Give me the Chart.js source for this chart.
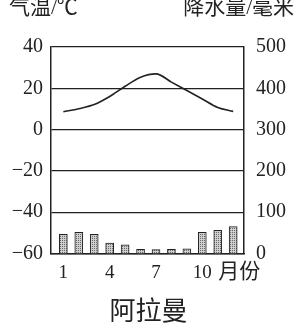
<!DOCTYPE html>
<html>
<head>
<meta charset="utf-8">
<script src="https://cdn.jsdelivr.net/npm/chart.js@4"></script>
<style>
  html, body { margin: 0; padding: 0; background: #fff; }
  #wrap { width: 297px; height: 327px; }
</style>
</head>
<body>
<div id="wrap"><canvas id="climateChart" width="297" height="327"></canvas></div>
<script>
// 阿拉曼 climate data
const months = [1, 2, 3, 4, 5, 6, 7, 8, 9, 10, 11, 12];
const tempC = [8.6, 10.1, 12.1, 16.0, 21.0, 25.4, 27.0, 23.0, 18.9, 14.8, 10.7, 8.8];
const precipMm = [46, 51, 46, 25, 21, 10, 9, 10, 11, 51, 56, 65];
const monthTicks = [1, 4, 7, 10];

const serif = '"Liberation Serif", "Noto Sans CJK SC", serif';
const ink = '#222';

// stippled grey fill for the bars
function stipple() {
    const c = document.createElement('canvas');
    c.width = 2; c.height = 2;
    const g = c.getContext('2d');
    g.fillStyle = '#cfcfcf';
    g.fillRect(0, 0, 2, 2);
    g.fillStyle = '#6a6a6a';
    g.fillRect(0, 0, 1, 1);
    return g.createPattern(c, 'repeat');
}

// axis headings and the month unit
const extraText = {
    id: 'extraText',
    afterDraw(chart) {
        const ctx = chart.ctx;
        ctx.save();
        ctx.fillStyle = ink;
        ctx.font = '21px ' + serif;
        ctx.textBaseline = 'middle';
        ctx.textAlign = 'left';
        ctx.fillText('气温/℃', 9, 8);
        ctx.textAlign = 'right';
        ctx.fillText('降水量/毫米', 294, 8);
        ctx.textAlign = 'left';
        const x10 = chart.scales.x.getPixelForValue(10);
        ctx.fillText('月份', x10 + 16, 272);
        ctx.restore();
    }
};

const ctx = document.getElementById('climateChart');
new Chart(ctx, {
    data: {
        datasets: [{
            type: 'line',
            label: '气温',
            data: months.map((m, i) => ({x: m, y: tempC[i]})),
            yAxisID: 'yT',
            borderColor: ink,
            borderWidth: 1.6,
            pointRadius: 0,
            cubicInterpolationMode: 'monotone',
            order: 0
        }, {
            type: 'bar',
            label: '降水量',
            data: months.map((m, i) => ({x: m, y: precipMm[i]})),
            yAxisID: 'yP',
            backgroundColor: stipple(),
            borderColor: ink,
            borderWidth: 1,
            barThickness: 8,
            order: 1
        }]
    },
    options: {
        responsive: false,
        animation: false,
        layout: { padding: { top: 47, bottom: 0, left: 0, right: 0 } },
        plugins: {
            legend: { display: false },
            tooltip: { enabled: false },
            title: {
                display: true,
                position: 'bottom',
                text: '阿拉曼',
                color: ink,
                font: { family: serif, size: 26, weight: 'normal', lineHeight: 1.1 },
                padding: 0
            }
        },
        scales: {
            x: {
                type: 'linear',
                offset: false,
                min: 0.2,
                max: 12.7,
                afterBuildTicks: s => { s.ticks = monthTicks.map(v => ({value: v})); },
                afterFit: s => { s.height = 45; },
                grid: { display: false, drawTicks: false, offset: false },
                border: { color: ink, width: 1.5 },
                ticks: {
                    color: ink,
                    padding: 8,
                    font: { family: serif, size: 19 },
                    maxRotation: 0
                }
            },
            yT: {
                position: 'left',
                min: -60,
                max: 40,
                afterFit: s => { s.width = 51; },
                grid: { color: ink, lineWidth: 1.2, drawTicks: false },
                border: { color: ink, width: 1.5 },
                ticks: {
                    stepSize: 20,
                    color: ink,
                    padding: 8,
                    font: { family: serif, size: 20 },
                    callback: v => v < 0 ? '\u2212' + Math.abs(v) : v
                }
            },
            yP: {
                position: 'right',
                min: 0,
                max: 500,
                afterFit: s => { s.width = 53; },
                grid: { display: false, drawTicks: false },
                border: { color: ink, width: 1.5 },
                ticks: {
                    stepSize: 100,
                    color: ink,
                    padding: 12,
                    font: { family: serif, size: 20 }
                }
            }
        }
    },
    plugins: [extraText]
});
</script>
</body>
</html>
